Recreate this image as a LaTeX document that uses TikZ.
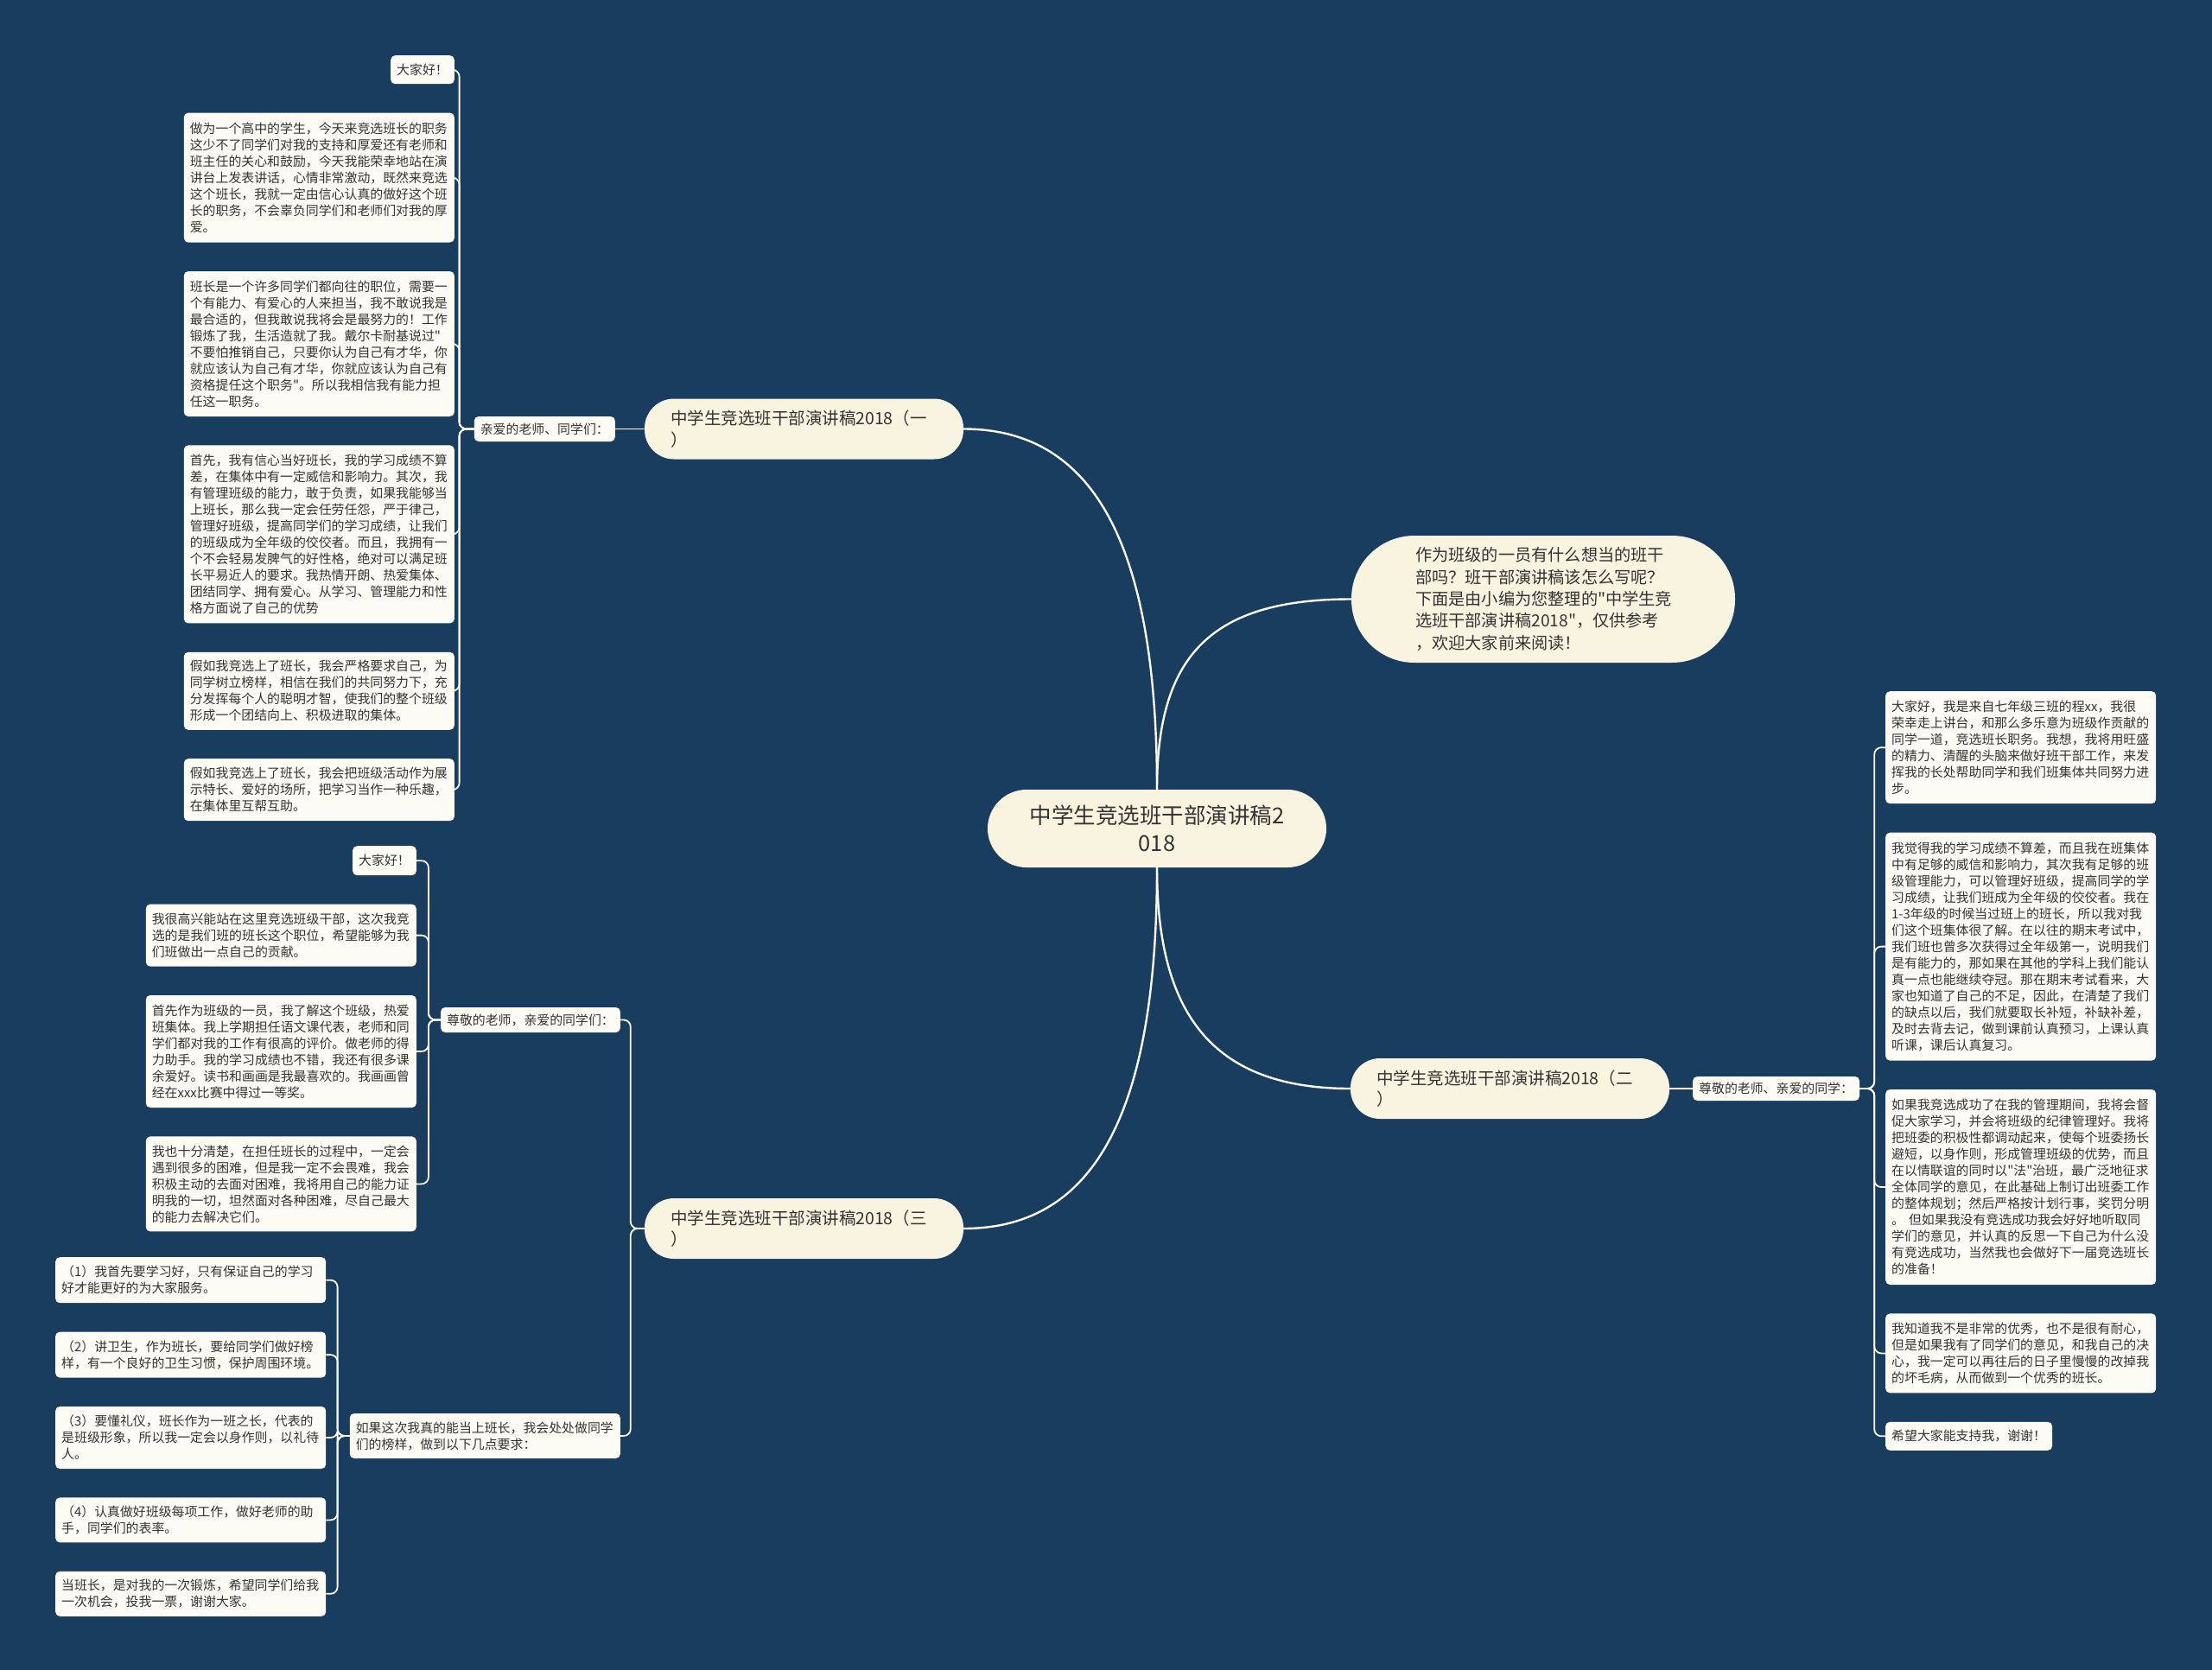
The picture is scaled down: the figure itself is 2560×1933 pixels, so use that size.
\documentclass[tikz,border=0pt]{standalone}
\usepackage{fontspec}
\setmainfont{Noto Sans CJK SC}[Ligatures=TeXOff]
\usepackage{tikz}
\usetikzlibrary{positioning}

\definecolor{bgnavy}{HTML}{183D5F}
\definecolor{paper}{HTML}{FDFCF4}
\definecolor{cream}{HTML}{F9F4E0}
\definecolor{ink}{HTML}{333333}
\definecolor{wire}{HTML}{FBF8EC}

\begin{document}
\begin{tikzpicture}[
    x=1pt, y=-1pt,
    node distance=33pt,
    root/.style={rectangle, rounded corners=45pt, fill=cream, text=ink, minimum width=392pt, minimum height=90pt, align=center, font=\fontsize{25.5}{32.5}\selectfont},
    intro/.style={rectangle, rounded corners=73pt, fill=cream, text=ink, inner xsep=74pt, text width=296pt, minimum height=147pt, align=left, font=\fontsize{19.2}{25.3}\selectfont},
    topic/.style={rectangle, rounded corners=34pt, fill=cream, text=ink, inner xsep=30pt, text width=309pt, minimum height=70pt, align=left, font=\fontsize{19.5}{24.5}\selectfont},
    memo/.style={rectangle, rounded corners=5pt, fill=paper, text=ink, inner xsep=7pt, inner ysep=4pt, align=left, font=\fontsize{14.9}{19}\selectfont},
    leaf/.style={memo, text width=299pt},
    bus/.style={draw=wire, line width=1.8pt, rounded corners=8pt},
    branch/.style={draw=wire, line width=2.4pt}
]
    % Background and page size
    \fill[bgnavy] (0,0) rectangle (2560,1933);

    % Central topic
    \node[root] (root) at (1339,959) {中学生竞选班干部演讲稿2\\018};

    % Intro
    \node[intro] (intro) at (1786,693.5) {作为班级的一员有什么想当的班干\\部吗？班干部演讲稿该怎么写呢？\\下面是由小编为您整理的"中学生竞\\选班干部演讲稿2018"，仅供参考\\，欢迎大家前来阅读！};

    % Speech one
    \node[topic] (sp1) at (930.5,496.5) {中学生竞选班干部演讲稿2018（一\\）};
    \node[memo, minimum height=29pt, anchor=east] (hi1) at (712,496.5) {亲爱的老师、同学们：};
    \node[memo, minimum height=33pt, anchor=north east] (p1a) at (526,64) {大家好！};
    \node[leaf, minimum height=150pt, below=of p1a.south east, anchor=north east] (p1b) {做为一个高中的学生，今天来竞选班长的职务\\这少不了同学们对我的支持和厚爱还有老师和\\班主任的关心和鼓励，今天我能荣幸地站在演\\讲台上发表讲话，心情非常激动，既然来竞选\\这个班长，我就一定由信心认真的做好这个班\\长的职务，不会辜负同学们和老师们对我的厚\\爱。};
    \node[leaf, minimum height=168pt, below=of p1b] (p1c) {班长是一个许多同学们都向往的职位，需要一\\个有能力、有爱心的人来担当，我不敢说我是\\最合适的，但我敢说我将会是最努力的！工作\\锻炼了我，生活造就了我。戴尔卡耐基说过"\\不要怕推销自己，只要你认为自己有才华，你\\就应该认为自己有才华，你就应该认为自己有\\资格提任这个职务"。所以我相信我有能力担\\任这一职务。};
    \node[leaf, minimum height=206pt, below=of p1c] (p1d) {首先，我有信心当好班长，我的学习成绩不算\\差，在集体中有一定威信和影响力。其次，我\\有管理班级的能力，敢于负责，如果我能够当\\上班长，那么我一定会任劳任怨，严于律己，\\管理好班级，提高同学们的学习成绩，让我们\\的班级成为全年级的佼佼者。而且，我拥有一\\个不会轻易发脾气的好性格，绝对可以满足班\\长平易近人的要求。我热情开朗、热爱集体、\\团结同学、拥有爱心。从学习、管理能力和性\\格方面说了自己的优势};
    \node[leaf, minimum height=90pt, below=of p1d] (p1e) {假如我竞选上了班长，我会严格要求自己，为\\同学树立榜样，相信在我们的共同努力下，充\\分发挥每个人的聪明才智，使我们的整个班级\\形成一个团结向上、积极进取的集体。};
    \node[leaf, minimum height=72pt, below=of p1e] (p1f) {假如我竞选上了班长，我会把班级活动作为展\\示特长、爱好的场所，把学习当作一种乐趣，\\在集体里互帮互助。};

    % Speech two
    \node[topic] (sp2) at (1747.5,1260) {中学生竞选班干部演讲稿2018（二\\）};
    \node[memo, minimum height=28pt, anchor=west] (hi2) at (1959,1260) {尊敬的老师、亲爱的同学：};
    \node[leaf, minimum height=130pt, anchor=north west] (p2a) at (2182,800) {大家好，我是来自七年级三班的程xx，我很\\荣幸走上讲台，和那么多乐意为班级作贡献的\\同学一道，竞选班长职务。我想，我将用旺盛\\的精力、清醒的头脑来做好班干部工作，来发\\挥我的长处帮助同学和我们班集体共同努力进\\步。};
    \node[leaf, minimum height=264pt, below=of p2a] (p2b) {我觉得我的学习成绩不算差，而且我在班集体\\中有足够的威信和影响力，其次我有足够的班\\级管理能力，可以管理好班级，提高同学的学\\习成绩，让我们班成为全年级的佼佼者。我在\\1-3年级的时候当过班上的班长，所以我对我\\们这个班集体很了解。在以往的期末考试中，\\我们班也曾多次获得过全年级第一，说明我们\\是有能力的，那如果在其他的学科上我们能认\\真一点也能继续夺冠。那在期末考试看来，大\\家也知道了自己的不足，因此，在清楚了我们\\的缺点以后，我们就要取长补短，补缺补差，\\及时去背去记，做到课前认真预习，上课认真\\听课，课后认真复习。};
    \node[leaf, minimum height=226pt, below=of p2b] (p2c) {如果我竞选成功了在我的管理期间，我将会督\\促大家学习，并会将班级的纪律管理好。我将\\把班委的积极性都调动起来，使每个班委扬长\\避短，以身作则，形成管理班级的优势，而且\\在以情联谊的同时以"法"治班，最广泛地征求\\全体同学的意见，在此基础上制订出班委工作\\的整体规划；然后严格按计划行事，奖罚分明\\。~但如果我没有竞选成功我会好好地听取同\\学们的意见，并认真的反思一下自己为什么没\\有竞选成功，当然我也会做好下一届竞选班长\\的准备！};
    \node[leaf, minimum height=92pt, below=of p2c] (p2d) {我知道我不是非常的优秀，也不是很有耐心，\\但是如果我有了同学们的意见，和我自己的决\\心，我一定可以再往后的日子里慢慢的改掉我\\的坏毛病，从而做到一个优秀的班长。};
    \node[memo, minimum height=33pt, below=of p2d.south west, anchor=north west] (p2e) {希望大家能支持我，谢谢！};

    % Speech three
    \node[topic] (sp3) at (930.5,1422) {中学生竞选班干部演讲稿2018（三\\）};
    \node[memo, minimum height=29pt, anchor=east] (hi3) at (718,1180.5) {尊敬的老师，亲爱的同学们：};
    \node[leaf, minimum height=52pt, anchor=east] (vow) at (718,1662) {如果这次我真的能当上班长，我会处处做同学\\们的榜样，做到以下几点要求：};
    \node[memo, minimum height=34pt, anchor=north east] (p3a) at (482,979) {大家好！};
    \node[leaf, minimum height=72pt, below=of p3a.south east, anchor=north east] (p3b) {我很高兴能站在这里竞选班级干部，这次我竞\\选的是我们班的班长这个职位，希望能够为我\\们班做出一点自己的贡献。};
    \node[leaf, minimum height=130pt, below=of p3b] (p3c) {首先作为班级的一员，我了解这个班级，热爱\\班集体。我上学期担任语文课代表，老师和同\\学们都对我的工作有很高的评价。做老师的得\\力助手。我的学习成绩也不错，我还有很多课\\余爱好。读书和画画是我最喜欢的。我画画曾\\经在xxx比赛中得过一等奖。};
    \node[leaf, minimum height=110pt, below=of p3c] (p3d) {我也十分清楚，在担任班长的过程中，一定会\\遇到很多的困难，但是我一定不会畏难，我会\\积极主动的去面对困难，我将用自己的能力证\\明我的一切，坦然面对各种困难，尽自己最大\\的能力去解决它们。};
    \node[leaf, minimum height=53pt, anchor=north west] (v1) at (64,1455) {（1）我首先要学习好，只有保证自己的学习\\好才能更好的为大家服务。};
    \node[leaf, minimum height=53pt, below=of v1] (v2) {（2）讲卫生，作为班长，要给同学们做好榜\\样，有一个良好的卫生习惯，保护周围环境。};
    \node[leaf, minimum height=72pt, below=of v2] (v3) {（3）要懂礼仪，班长作为一班之长，代表的\\是班级形象，所以我一定会以身作则，以礼待\\人。};
    \node[leaf, minimum height=52pt, below=of v3] (v4) {（4）认真做好班级每项工作，做好老师的助\\手，同学们的表率。};
    \node[leaf, minimum height=52pt, below=of v4] (v5) {当班长，是对我的一次锻炼，希望同学们给我\\一次机会，投我一票，谢谢大家。};

    % Main branches
    \draw[branch] (root.north) .. controls (1339,620) and (1260,496.5) .. (sp1.east);
    \draw[branch] (root.north) .. controls (1339,760) and (1400,693.5) .. (intro.west);
    \draw[branch] (root.south) .. controls (1339,1170) and (1400,1260) .. (sp2.west);
    \draw[branch] (root.south) .. controls (1339,1300) and (1260,1422) .. (sp3.east);

    % Speech one links
    \draw[bus] (sp1.west) -- (hi1.east);
    \foreach \n in {p1a,p1b,p1c,p1d,p1e,p1f}
        \draw[bus] (hi1.west) -- ++(-17,0) |- (\n.east);

    % Speech two links
    \draw[bus] (sp2.east) -- (hi2.west);
    \foreach \n in {p2a,p2b,p2c,p2d,p2e}
        \draw[bus] (hi2.east) -- ++(17,0) |- (\n.west);

    % Speech three links
    \foreach \n in {hi3,vow}
        \draw[bus] (sp3.west) -- ++(-16,0) |- (\n.east);
    \foreach \n in {p3a,p3b,p3c,p3d}
        \draw[bus] (hi3.west) -- ++(-14,0) |- (\n.east);
    \foreach \n in {v1,v2,v3,v4,v5}
        \draw[bus] (vow.west) -- ++(-14,0) |- (\n.east);

\end{tikzpicture}
\end{document}
